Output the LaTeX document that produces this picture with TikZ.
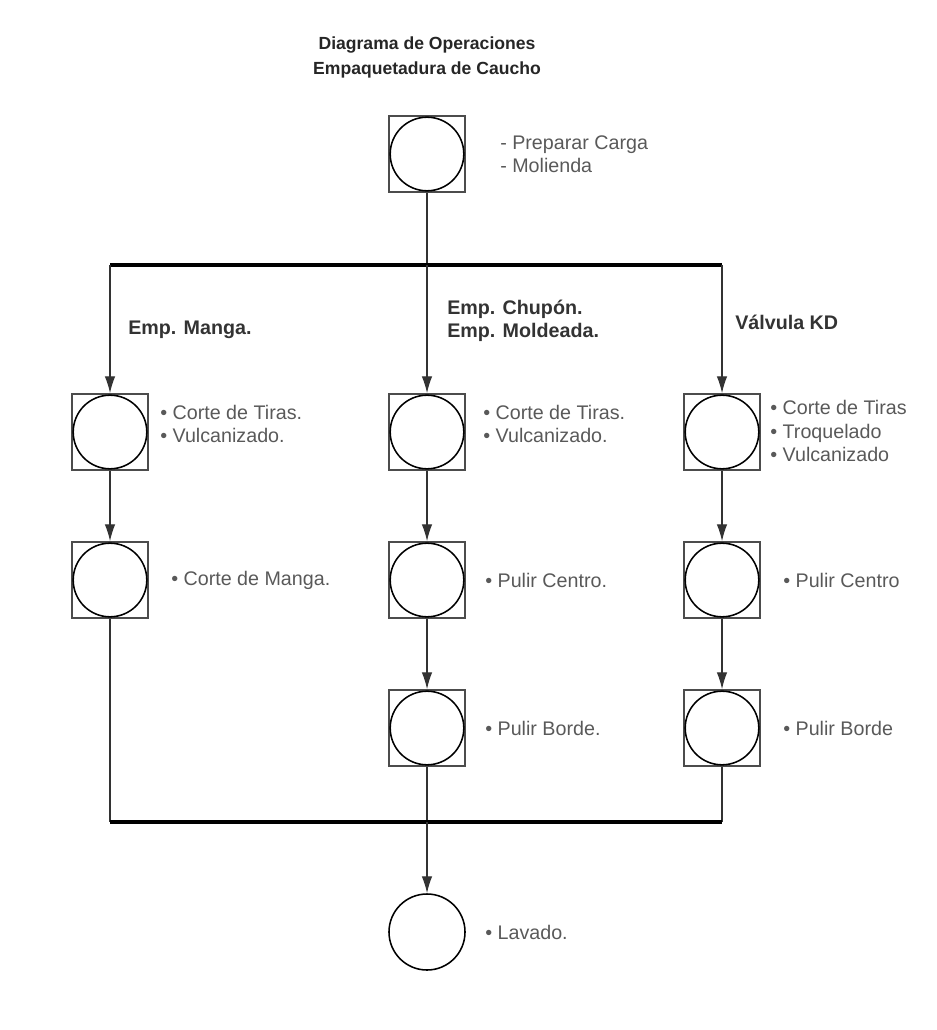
\documentclass[tikz,border=0pt]{standalone}
\usepackage{fontspec}
\setmainfont{Liberation Sans}
\usetikzlibrary{arrows.meta}

\begin{document}
\begin{tikzpicture}[x=0.025cm, y=-0.025cm, font=\fontsize{14}{16.5}\selectfont]
    % Node Styles
    \tikzstyle{opbox} = [rectangle, draw=black!70, line width=1.1pt, minimum size=1.9cm, inner sep=0pt]
    \tikzstyle{opcirc} = [circle, draw=black, line width=1.1pt, minimum size=1.84cm, inner sep=0pt]
    \tikzstyle{optext} = [anchor=west, align=left, text=black!65, inner sep=0pt]
    \tikzstyle{branch} = [anchor=west, align=left, text=black!80, font=\fontsize{14}{16.5}\selectfont\bfseries, inner sep=0pt]
    \tikzstyle{bar} = [draw, line width=2.4pt, black]
    \tikzstyle{line} = [draw, line width=0.9pt, black!80]
    \tikzstyle{flow} = [line, -{Latex[length=12pt,width=7.5pt]}]

    \useasboundingbox (0,0) rectangle (936,1030);

    % Title
    \node [font=\fontsize{12.5}{17.8}\selectfont\bfseries, text=black!85, align=center] (title) at (427,57) {Diagrama de Operaciones\\Empaquetadura de Caucho};

    % Start
    \node [opbox] (s0) at (427,154) {};
    \node [opcirc] (c0) at (s0) {};
    \node [optext] (t0) at (500,154) {- Preparar Carga\\- Molienda};

    % Branch bar
    \coordinate (tl) at (110,265);
    \coordinate (tc) at (427,265);
    \coordinate (tr) at (722,265);
    \node [branch] (lb1) at (128,330) {Emp. Manga.};
    \node [branch] (lb2) at (447,321) {Emp. Chupón.\\Emp. Moldeada.};
    \node [branch] (lb3) at (735,322) {Válvula KD};

    % Row 1
    \node [opbox] (s11) at (110,432) {};
    \node [opcirc] (c11) at (s11) {};
    \node [opbox] (s12) at (427,432) {};
    \node [opcirc] (c12) at (s12) {};
    \node [opbox] (s13) at (722,432) {};
    \node [opcirc] (c13) at (s13) {};
    \node [optext] (t11) at (160,424) {• Corte de Tiras.\\• Vulcanizado.};
    \node [optext] (t12) at (483,424) {• Corte de Tiras.\\• Vulcanizado.};
    \node [optext] (t13) at (770,431) {• Corte de Tiras\\• Troquelado\\• Vulcanizado};

    % Row 2
    \node [opbox] (s21) at (110,580) {};
    \node [opcirc] (c21) at (s21) {};
    \node [opbox] (s22) at (427,580) {};
    \node [opcirc] (c22) at (s22) {};
    \node [opbox] (s23) at (722,580) {};
    \node [opcirc] (c23) at (s23) {};
    \node [optext] (t21) at (171,580) {• Corte de Manga.};
    \node [optext] (t22) at (485,580) {• Pulir Centro.};
    \node [optext] (t23) at (783,580) {• Pulir Centro};

    % Row 3
    \node [opbox] (s32) at (427,728) {};
    \node [opcirc] (c32) at (s32) {};
    \node [opbox] (s33) at (722,728) {};
    \node [opcirc] (c33) at (s33) {};
    \node [optext] (t32) at (485,728) {• Pulir Borde.};
    \node [optext] (t33) at (783,728) {• Pulir Borde};

    % Join bar and end
    \coordinate (bl) at (110,822);
    \coordinate (bc) at (427,822);
    \coordinate (br) at (722,822);
    \node [opcirc, minimum size=1.9cm] (c4) at (427,932) {};
    \node [optext] (t4) at (485,932) {• Lavado.};

    % Paths
    \path [line] (s0.south) -- (tc);
    \path [bar] (tl) -- (tr);
    \path [flow] (tl) -- (s11.north);
    \path [flow] (tc) -- (s12.north);
    \path [flow] (tr) -- (s13.north);
    \path [flow] (s11.south) -- (s21.north);
    \path [flow] (s12.south) -- (s22.north);
    \path [flow] (s13.south) -- (s23.north);
    \path [flow] (s22.south) -- (s32.north);
    \path [flow] (s23.south) -- (s33.north);
    \path [line] (s21.south) -- (bl);
    \path [line] (s32.south) -- (bc);
    \path [line] (s33.south) -- (br);
    \path [bar] (bl) -- (br);
    \path [flow] (bc) -- (c4.north);
\end{tikzpicture}
\end{document}
